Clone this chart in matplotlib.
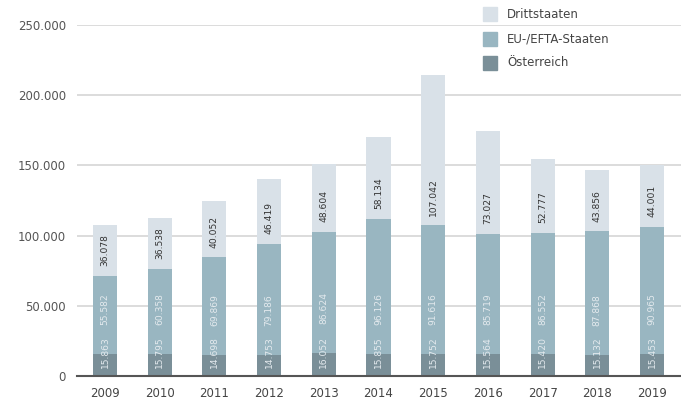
import matplotlib
matplotlib.use("Agg")
import matplotlib.pyplot as plt
from matplotlib.patches import Rectangle

years = ["2009", "2010", "2011", "2012", "2013", "2014", "2015", "2016", "2017", "2018", "2019"]
oesterreich = [15863, 15795, 14698, 14753, 16052, 15855, 15752, 15564, 15420, 15132, 15453]
eu_efta = [55582, 60358, 69869, 79186, 86624, 96126, 91616, 85719, 86552, 87868, 90965]
dritt = [36078, 36538, 40052, 46419, 48604, 58134, 107042, 73027, 52777, 43856, 44001]
yticks = [0, 50000, 100000, 150000, 200000, 250000]
ytick_labels = ["0", "50.000", "100.000", "150.000", "200.000", "250.000"]
series_names = ["Drittstaaten", "EU-/EFTA-Staaten", "Österreich"]

c_dritt = "#d9e1e8"
c_eu = "#99b6c1"
c_at = "#7a8f98"

def fmt(v):
    return f"{v:,}".replace(",", ".")

plt.rcParams['font.family'] = ['DejaVu Sans']
W, H = 681, 404
fig = plt.figure(figsize=(W / 100, H / 100), dpi=100)
ax = fig.add_axes([77 / W, 28 / H, (681 - 77) / W, 351 / H])

x = list(range(len(years)))
bw = 0.44
ax.bar(x, oesterreich, width=bw, color=c_at, zorder=3)
ax.bar(x, eu_efta, width=bw, bottom=oesterreich, color=c_eu, zorder=3)
bottom2 = [a + b for a, b in zip(oesterreich, eu_efta)]
ax.bar(x, dritt, width=bw, bottom=bottom2, color=c_dritt, zorder=3)

lab_kw = dict(rotation=90, ha="center", va="bottom", fontsize=6.6,
              textcoords="offset points", zorder=4)
for i in x:
    ax.annotate(fmt(oesterreich[i]), (i, 0), xytext=(0, 6.0), color="#e4eaee", **lab_kw)
    ax.annotate(fmt(eu_efta[i]), (i, oesterreich[i]), xytext=(0, 21.0), color="#e4eaee", **lab_kw)
    ax.annotate(fmt(dritt[i]), (i, bottom2[i]), xytext=(0, 7.0), color="#333333", **lab_kw)

ax.set_xlim(-0.512, 10.53)
ax.set_ylim(0, 250000)
ax.set_yticks(yticks)
ax.set_yticklabels(ytick_labels)
ax.set_xticks(x)
ax.set_xticklabels(years)
ax.tick_params(axis="y", length=0, pad=8, labelsize=8.5, labelcolor="#555555")
ax.tick_params(axis="x", length=0, pad=8, labelsize=8.5, labelcolor="#444444")
ax.grid(axis="y", color="#d2d2d2", linewidth=1.1, zorder=0)
ax.set_axisbelow(True)
for s in ["top", "right", "left"]:
    ax.spines[s].set_visible(False)
ax.spines["bottom"].set_color("#555555")
ax.spines["bottom"].set_linewidth(1.5)
ax.spines["bottom"].set_zorder(5)

# legend
colors = [c_dritt, c_eu, c_at]
rows_y = [14, 39, 63]
for name, col, yc in zip(series_names, colors, rows_y):
    fig.add_artist(Rectangle((483 / W, 1 - (yc + 7) / H), 14 / W, 14 / H,
                             transform=fig.transFigure, color=col))
    fig.text(507 / W, 1 - yc / H, name, fontsize=8.5, color="#444444",
             va="center", ha="left")

fig.savefig("out.png", dpi=100)
